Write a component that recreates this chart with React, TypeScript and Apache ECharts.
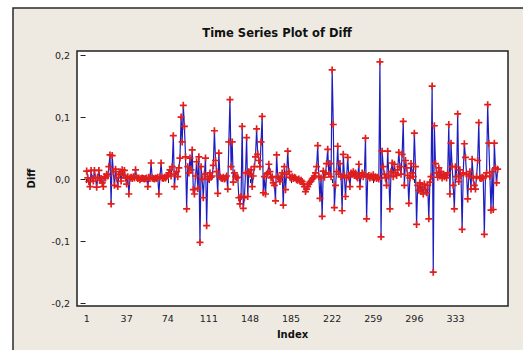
import React, { useEffect, useRef } from "react";
import * as echarts from "echarts";

const titleText = "Time Series Plot of Diff";
const xAxisName = "Index";
const yAxisName = "Diff";
const xTicks = [1, 37, 74, 111, 148, 185, 222, 259, 296, 333];
const yTicks = [-0.2, -0.1, 0.0, 0.1, 0.2];

// Diff values, index 1..371
const diff = [
  0.013, 0.002, -0.004, -0.012, 0.014, 0.001, -0.003, 0.014, 0.002, -0.013,
  0.003, 0.014, -0.002, 0.001, -0.006, -0.012, 0.004, 0.002, 0.008, 0.005,
  0.020, 0.039, -0.040, 0.038, 0.012, -0.010, 0.016, 0.002, -0.012, 0.008,
  0.012, -0.003, 0.015, 0.006, 0.014, 0.002, -0.008, 0.004, -0.024, 0.002,
  0.003, 0.001, 0.004, 0.002, 0.015, 0.003, 0.001, 0.002, -0.001, 0.001,
  0.002, 0.001, 0.000, 0.001, 0.002, -0.012, 0.003, 0.001, 0.026, 0.002,
  0.001, 0.000, 0.002, 0.001, 0.003, -0.024, 0.004, 0.026, 0.002, 0.001,
  0.003, 0.002, 0.004, 0.006, 0.010, 0.015, 0.005, 0.020, 0.070, -0.012,
  0.008, 0.012, 0.004, 0.018, 0.034, 0.100, 0.060, 0.119, 0.085, 0.036,
  -0.048, 0.020, 0.010, 0.034, 0.015, 0.047, -0.017, -0.024, 0.005, 0.028,
  -0.015, 0.036, -0.102, 0.020, 0.000, -0.030, 0.008, 0.034, -0.075, 0.004,
  0.000, 0.010, 0.003, 0.005, 0.022, 0.078, 0.030, 0.012, -0.023, 0.042,
  0.004, 0.002, 0.001, 0.003, 0.000, 0.002, 0.005, -0.016, 0.060, 0.128,
  0.020, 0.060, -0.005, 0.010, 0.004, 0.002, 0.003, -0.030, -0.040, -0.028,
  0.085, -0.047, -0.030, 0.010, 0.067, -0.028, 0.012, 0.008, 0.015, -0.012,
  0.005, 0.020, 0.036, 0.081, 0.040, 0.030, 0.020, 0.060, 0.101, -0.022,
  0.004, -0.024, 0.008, 0.010, 0.024, 0.012, 0.002, 0.004, -0.006, -0.010,
  -0.035, 0.039, 0.004, 0.002, -0.004, 0.003, 0.010, -0.042, 0.020, -0.017,
  0.008, 0.045, 0.012, 0.003, 0.002, 0.004, 0.001, 0.003, 0.002, -0.001,
  -0.002, 0.000, -0.003, -0.002, -0.004, -0.008, -0.012, -0.020, -0.016, -0.012,
  -0.008, -0.005, -0.003, 0.000, 0.002, 0.005, 0.010, 0.020, 0.054, 0.004,
  -0.031, 0.002, -0.060, 0.013, 0.003, 0.010, 0.025, 0.048, 0.008, 0.025,
  0.004, 0.176, 0.088, -0.046, -0.010, 0.012, 0.053, 0.008, 0.025, 0.004,
  -0.051, 0.040, 0.006, -0.028, 0.002, 0.035, 0.004, -0.012, 0.010, 0.008,
  0.012, 0.006, 0.010, 0.004, 0.002, 0.024, -0.012, 0.006, 0.010, 0.004,
  0.008, 0.066, -0.064, 0.004, 0.006, 0.002, 0.005, 0.003, 0.007, 0.002,
  0.004, 0.001, 0.003, 0.000, 0.189, -0.093, 0.045, 0.020, 0.008, 0.002,
  -0.010, 0.045, 0.005, -0.048, 0.012, 0.026, 0.004, 0.024, 0.010, 0.006,
  0.015, 0.043, 0.020, 0.008, 0.040, 0.093, -0.010, 0.030, 0.018, 0.006,
  -0.039, 0.002, 0.025, 0.010, 0.004, 0.074, 0.020, -0.073, -0.010, -0.018,
  -0.006, -0.020, -0.012, -0.024, -0.008, -0.017, -0.022, -0.010, -0.064, -0.005,
  0.004, 0.150, -0.150, 0.086, 0.025, 0.010, 0.003, 0.018, 0.005, 0.012,
  0.002, 0.008, 0.004, 0.006, 0.002, 0.010, 0.088, -0.024, 0.058, 0.020,
  -0.010, -0.048, 0.020, 0.004, 0.105, -0.004, 0.015, 0.006, -0.081, 0.010,
  0.057, 0.035, 0.008, -0.032, 0.005, 0.012, -0.016, 0.032, 0.002, -0.010,
  -0.016, 0.004, 0.030, 0.091, 0.002, 0.001, 0.003, 0.002, -0.089, 0.004,
  0.010, 0.120, 0.058, 0.005, -0.050, 0.012, -0.049, 0.058, 0.018, -0.006, 0.016,
];

const plusSymbol =
  "path://M2.65,0H4.35V2.65H7V4.35H4.35V7H2.65V4.35H0V2.65H2.65Z";

export default function App() {
  const ref = useRef<HTMLDivElement>(null);
  useEffect(() => {
    if (!ref.current) return;
    const chart = echarts.init(ref.current, null, { renderer: "svg" });
    const font = "DejaVu Sans";
    chart.setOption({
      animation: false,
      backgroundColor: "#ffffff",
      textStyle: { fontFamily: font },
      graphic: [
        {
          type: "rect",
          z: -10,
          silent: true,
          shape: { x: 13, y: 8, width: 540, height: 360 },
          style: { fill: "#EEEAE2", stroke: "#2a2a2a", lineWidth: 1.5 },
        },
      ],
      title: {
        text: titleText,
        left: 272,
        top: 22,
        textAlign: "center",
        textStyle: {
          fontFamily: font,
          fontSize: 11.5,
          fontWeight: "bold",
          color: "#111",
        },
      },
      grid: {
        left: 77,
        top: 51,
        right: 15,
        bottom: 44,
        show: true,
        backgroundColor: "#ffffff",
        borderColor: "#222",
        borderWidth: 1.5,
      },
      xAxis: {
        type: "value",
        min: -7.7,
        max: 380.3,
        name: xAxisName,
        nameLocation: "middle",
        nameGap: 23,
        nameTextStyle: {
          fontFamily: font,
          fontSize: 10,
          fontWeight: "bold",
          color: "#111",
        },
        axisLine: { show: false },
        splitLine: { show: false },
        axisTick: {
          show: true,
          length: 4,
          customValues: xTicks,
          lineStyle: { color: "#222" },
        },
        axisLabel: {
          customValues: xTicks,
          fontSize: 9.5,
          margin: 7,
          color: "#222",
          fontFamily: font,
        },
      },
      yAxis: {
        type: "value",
        min: -0.2045,
        max: 0.2065,
        name: yAxisName,
        nameLocation: "middle",
        nameGap: 41,
        nameRotate: 90,
        nameTextStyle: {
          fontFamily: font,
          fontSize: 10,
          fontWeight: "bold",
          color: "#111",
        },
        axisLine: { show: false },
        splitLine: { show: false },
        axisTick: {
          show: true,
          length: 5,
          customValues: yTicks,
          lineStyle: { color: "#222" },
        },
        axisLabel: {
          customValues: yTicks,
          fontSize: 9.5,
          margin: 7,
          color: "#222",
          fontFamily: font,
          formatter: (v: number) => v.toFixed(1).replace(".", ","),
        },
      },
      series: [
        {
          type: "line",
          data: diff.map((v, i) => [i + 1, v]),
          showAllSymbol: true,
          symbol: plusSymbol,
          symbolSize: 7,
          lineStyle: { color: "#1E1EC0", width: 1.2 },
          itemStyle: { color: "#E01E1E", borderWidth: 0 },
          emphasis: { disabled: true },
        },
      ],
    });
    return () => chart.dispose();
  }, []);
  return (
    <div
      ref={ref}
      style={{ position: "fixed", left: 0, top: 0, width: 523, height: 350 }}
    />
  );
}
